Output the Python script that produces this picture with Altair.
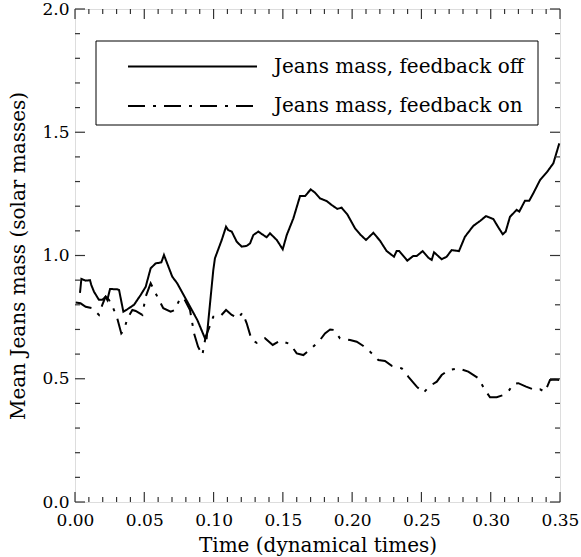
import altair as alt
import pandas as pd

# ---- data ----
off_t = [0.0036, 0.0046, 0.0077, 0.0108, 0.0118, 0.0137, 0.0173, 0.0197, 0.0221, 0.0233,
         0.0253, 0.0305, 0.0318, 0.0349, 0.0378, 0.0426, 0.0474, 0.0510, 0.0546, 0.0582,
         0.0623, 0.0642, 0.0702, 0.0738, 0.0810, 0.0883, 0.0938, 0.0950, 0.0998, 0.1010,
         0.1059, 0.1090, 0.1106, 0.1131, 0.1167, 0.1203, 0.1239, 0.1263, 0.1287, 0.1323,
         0.1359, 0.1383, 0.1407, 0.1456, 0.1499, 0.1528, 0.1576, 0.1624, 0.1660, 0.1701,
         0.1732, 0.1768, 0.1816, 0.1852, 0.1893, 0.1924, 0.1965, 0.2021, 0.2057, 0.2100,
         0.2153, 0.2201, 0.2249, 0.2302, 0.2321, 0.2340, 0.2398, 0.2441, 0.2466, 0.2509,
         0.2550, 0.2574, 0.2591, 0.2646, 0.2682, 0.2718, 0.2771, 0.2814, 0.2874, 0.2923,
         0.2966, 0.3019, 0.3055, 0.3087, 0.3108, 0.3139, 0.3187, 0.3206, 0.3247, 0.3278,
         0.3307, 0.3356, 0.3408, 0.3452, 0.3495]
off_v = [0.848, 0.905, 0.898, 0.900, 0.880, 0.853, 0.820, 0.820, 0.833, 0.820,
         0.864, 0.863, 0.860, 0.772, 0.782, 0.800, 0.840, 0.873, 0.948, 0.968,
         0.972, 1.002, 0.914, 0.887, 0.813, 0.738, 0.664, 0.664, 0.941, 0.989,
         1.063, 1.117, 1.103, 1.097, 1.056, 1.036, 1.039, 1.049, 1.083, 1.097,
         1.083, 1.074, 1.090, 1.063, 1.025, 1.083, 1.151, 1.241, 1.241, 1.268,
         1.255, 1.232, 1.221, 1.205, 1.189, 1.194, 1.167, 1.110, 1.086, 1.063,
         1.092, 1.060, 1.018, 0.995, 1.018, 1.018, 0.979, 0.998, 0.998, 1.018,
         0.991, 0.982, 1.013, 0.985, 0.995, 1.022, 1.018, 1.076, 1.120, 1.140,
         1.160, 1.148, 1.114, 1.086, 1.097, 1.157, 1.185, 1.178, 1.222, 1.222,
         1.252, 1.306, 1.340, 1.374, 1.455]

on_t = [0.0005, 0.0040, 0.0077, 0.0125, 0.0173, 0.0197, 0.0221, 0.0245, 0.0276, 0.0305,
        0.0334, 0.0354, 0.0378, 0.0414, 0.0438, 0.0486, 0.0510, 0.0546, 0.0594, 0.0637,
        0.0690, 0.0722, 0.0758, 0.0787, 0.0830, 0.0859, 0.0888, 0.0919, 0.0943, 0.0967,
        0.0998, 0.1046, 0.1090, 0.1131, 0.1178, 0.1208, 0.1239, 0.1275, 0.1311, 0.1371,
        0.1427, 0.1480, 0.1552, 0.1600, 0.1648, 0.1708, 0.1768, 0.1804, 0.1841, 0.1870,
        0.1912, 0.1985, 0.2033, 0.2081, 0.2129, 0.2189, 0.2237, 0.2286, 0.2358, 0.2406,
        0.2466, 0.2514, 0.2562, 0.2611, 0.2646, 0.2694, 0.2766, 0.2838, 0.2911, 0.2959,
        0.2995, 0.3043, 0.3091, 0.3134, 0.3163, 0.3199, 0.3255, 0.3320, 0.3356, 0.3392,
        0.3428, 0.3464, 0.3495]
on_v = [0.809, 0.806, 0.792, 0.786, 0.759, 0.800, 0.833, 0.820, 0.786, 0.745,
        0.684, 0.698, 0.745, 0.779, 0.775, 0.759, 0.833, 0.887, 0.833, 0.786,
        0.772, 0.779, 0.826, 0.826, 0.779, 0.684, 0.630, 0.596, 0.671, 0.705,
        0.752, 0.752, 0.779, 0.759, 0.745, 0.768, 0.725, 0.657, 0.646, 0.664,
        0.637, 0.654, 0.641, 0.603, 0.596, 0.624, 0.657, 0.684, 0.700, 0.698,
        0.664, 0.657, 0.650, 0.633, 0.610, 0.576, 0.572, 0.552, 0.542, 0.508,
        0.468, 0.443, 0.471, 0.488, 0.515, 0.535, 0.542, 0.529, 0.502, 0.454,
        0.425, 0.425, 0.434, 0.454, 0.479, 0.482, 0.468, 0.454, 0.457, 0.447,
        0.495, 0.497, 0.495]

series_names = ["Jeans mass, feedback off", "Jeans mass, feedback on"]

x_major = [0.0, 0.05, 0.10, 0.15, 0.20, 0.25, 0.30, 0.35]
x_minor = [round(i * 0.01, 2) for i in range(36) if i % 5 != 0]
y_major = [0.0, 0.5, 1.0, 1.5, 2.0]
y_minor = [round(i * 0.1, 1) for i in range(21) if i % 5 != 0]

x_title = "Time (dynamical times)"
y_title = "Mean Jeans mass (solar masses)"

# ---- layout / style ----
W, H = 485, 493
FONT = "DejaVu Serif"
INK = "#000000"
FRAME = "#333333"
DASHDOT = [17, 8, 3, 8]

df = pd.concat([
    pd.DataFrame({"t": off_t, "v": off_v, "series": series_names[0]}),
    pd.DataFrame({"t": on_t, "v": on_v, "series": series_names[1]}),
], ignore_index=True)

xscale = alt.Scale(domain=[0, 0.35], nice=False, zero=False)
yscale = alt.Scale(domain=[0, 2.0], nice=False, zero=False)

x_axis = alt.Axis(values=x_major, format=".2f", title=x_title,
                  ticks=False, tickSize=0, domain=False, grid=False,
                  labelFont=FONT, labelFontSize=17, labelColor=INK,
                  labelPadding=10, labelFlush=False,
                  titleFont=FONT, titleFontSize=20, titleFontWeight="normal",
                  titleColor=INK, titlePadding=7)
y_axis = alt.Axis(values=y_major, format=".1f", title=y_title,
                  ticks=False, tickSize=0, domain=False, grid=False,
                  labelFont=FONT, labelFontSize=17, labelColor=INK,
                  labelPadding=6, labelFlush=False,
                  titleFont=FONT, titleFontSize=20, titleFontWeight="normal",
                  titleColor=INK, titlePadding=13)

lines = alt.Chart(df).mark_line(strokeWidth=2, color=INK).encode(
    x=alt.X("t:Q", scale=xscale, axis=x_axis),
    y=alt.Y("v:Q", scale=yscale, axis=y_axis),
    strokeDash=alt.StrokeDash("series:N",
                              scale=alt.Scale(domain=series_names, range=[[1, 0], DASHDOT]),
                              legend=None),
    detail="series:N",
)


def xticks(values, length):
    d = pd.DataFrame({"t": values})
    bottom = alt.Chart(d).mark_rule(color=FRAME, strokeWidth=1.2).encode(
        x=alt.X("t:Q", scale=xscale, axis=x_axis), y=alt.value(H), y2=alt.value(H - length))
    top = alt.Chart(d).mark_rule(color=FRAME, strokeWidth=1.2).encode(
        x=alt.X("t:Q", scale=xscale, axis=x_axis), y=alt.value(0), y2=alt.value(length))
    return [bottom, top]


def yticks(values, length):
    d = pd.DataFrame({"v": values})
    left = alt.Chart(d).mark_rule(color=FRAME, strokeWidth=1.2).encode(
        y=alt.Y("v:Q", scale=yscale, axis=y_axis), x=alt.value(0), x2=alt.value(length))
    right = alt.Chart(d).mark_rule(color=FRAME, strokeWidth=1.2).encode(
        y=alt.Y("v:Q", scale=yscale, axis=y_axis), x=alt.value(W), x2=alt.value(W - length))
    return [left, right]


tick_layers = (xticks(x_major, 10) + xticks(x_minor, 5) +
               yticks(y_major, 10) + yticks(y_minor, 5))

# ---- legend box (drawn inside the plot) ----
one = pd.DataFrame({"a": [0]})
box = alt.Chart(one).mark_rect(fill="white", stroke=INK, strokeWidth=1).encode(
    x=alt.value(21), x2=alt.value(463), y=alt.value(32), y2=alt.value(116))

leg_rows = [57.5, 97]
leg_layers = []
for name, dash, yy in zip(series_names, [[1, 0], DASHDOT], leg_rows):
    d = pd.DataFrame({"label": [name]})
    leg_layers.append(alt.Chart(d).mark_rule(color=INK, strokeWidth=2, strokeDash=dash).encode(
        x=alt.value(53), x2=alt.value(182), y=alt.value(yy)))
    leg_layers.append(alt.Chart(d).mark_text(font=FONT, fontSize=20, color=INK,
                                             align="left", baseline="middle").encode(
        x=alt.value(199), y=alt.value(yy), text="label:N"))

chart = alt.layer(lines, *tick_layers, box, *leg_layers).properties(
    width=W, height=H,
    autosize=alt.AutoSizeParams(type="none"),
    padding={"left": 75, "top": 9, "right": 21, "bottom": 55},
).configure_view(stroke=FRAME, strokeWidth=1.5).configure(background="white")

chart.save("out.html", embed_options={"renderer": "svg", "actions": False})
